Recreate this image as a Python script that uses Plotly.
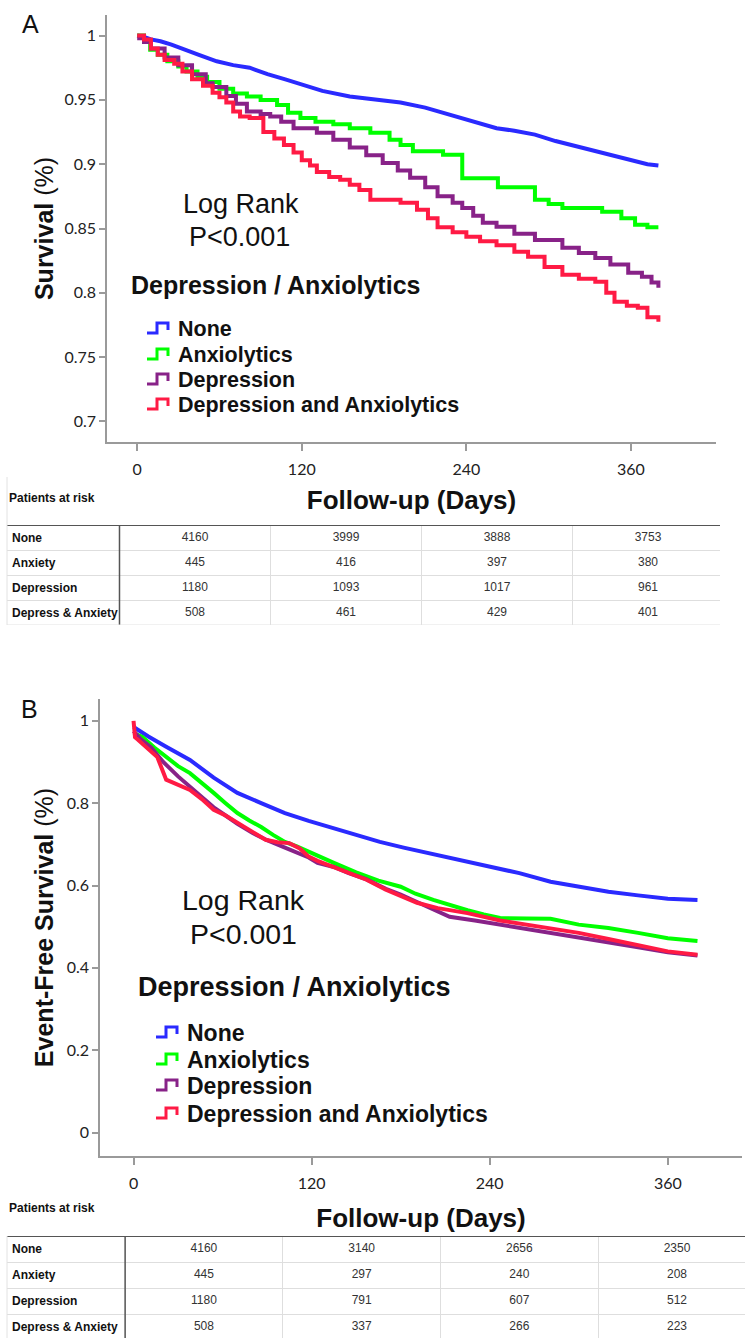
import plotly.graph_objects as go

W, H = 745, 1338


def px(x):
    return x / W


def py(y):
    return 1 - y / H


# ---------------- Panel A data (days, survival) ----------------
a_none_x = [0, 5, 10, 17, 25, 36, 45, 58, 70, 82, 95, 108, 119, 135, 155, 175, 192, 210, 228, 245, 262, 275, 290, 305, 321, 335, 346, 360, 372, 380]
a_none_y = [1.0, 0.999, 0.997, 0.9956, 0.993, 0.989, 0.985, 0.980, 0.977, 0.975, 0.970, 0.966, 0.962, 0.957, 0.9526, 0.950, 0.948, 0.944, 0.9385, 0.933, 0.928, 0.926, 0.923, 0.918, 0.9137, 0.910, 0.9074, 0.903, 0.900, 0.899]

a_anx_x = [0, 5, 9.5, 15, 22, 30, 36, 44, 51, 60, 70, 80, 90, 102, 110, 119, 130, 143, 155, 170, 184, 192, 201, 223, 237, 263, 290, 300, 310, 339, 353, 363, 372, 380]
a_anx_y = [1.0, 0.995, 0.989, 0.985, 0.980, 0.976, 0.972, 0.968, 0.964, 0.9587, 0.955, 0.9526, 0.950, 0.946, 0.940, 0.936, 0.933, 0.931, 0.928, 0.9245, 0.919, 0.915, 0.910, 0.9074, 0.889, 0.882, 0.8724, 0.869, 0.866, 0.863, 0.858, 0.853, 0.851, 0.851]

a_dep_x = [0, 5, 10, 20, 30, 40, 50, 55, 65, 72, 80, 90, 97, 105, 114, 131, 143, 155, 167, 179, 190, 199, 210, 219, 230, 237, 245, 252, 262, 275, 290, 310, 322, 334, 345, 358, 368, 375, 380]
a_dep_y = [0.998, 0.995, 0.990, 0.983, 0.977, 0.970, 0.963, 0.960, 0.953, 0.947, 0.941, 0.939, 0.937, 0.933, 0.928, 0.9245, 0.919, 0.913, 0.907, 0.901, 0.895, 0.8895, 0.882, 0.875, 0.870, 0.866, 0.860, 0.8545, 0.8514, 0.846, 0.841, 0.835, 0.831, 0.827, 0.822, 0.8156, 0.8125, 0.808, 0.804]

a_both_x = [0, 5, 10, 15, 20, 27, 33, 40, 48, 55, 60, 65, 70, 75, 82, 92, 100, 107, 114, 120, 126, 131, 140, 148, 155, 162, 170, 192, 204, 212, 219, 230, 240, 250, 262, 275, 285, 297, 310, 322, 334, 342, 348, 357, 365, 372, 380]
a_both_y = [1.0, 0.997, 0.990, 0.985, 0.981, 0.978, 0.972, 0.966, 0.961, 0.9556, 0.952, 0.948, 0.941, 0.937, 0.936, 0.925, 0.920, 0.915, 0.909, 0.903, 0.899, 0.894, 0.890, 0.888, 0.884, 0.880, 0.8724, 0.870, 0.8646, 0.858, 0.851, 0.847, 0.8436, 0.840, 0.837, 0.832, 0.828, 0.820, 0.814, 0.811, 0.8086, 0.800, 0.793, 0.790, 0.7884, 0.781, 0.7775]

# ---------------- Panel B data (days, event-free survival) ----------------
b_none_x = [0, 3, 10, 22, 30, 38, 54, 70, 86, 102, 118, 134, 150, 166, 182, 198, 220, 240, 260, 281, 300, 320, 340, 360, 380]
b_none_y = [0.985, 0.978, 0.962, 0.937, 0.920, 0.905, 0.862, 0.825, 0.800, 0.776, 0.757, 0.740, 0.722, 0.706, 0.692, 0.679, 0.662, 0.646, 0.630, 0.609, 0.597, 0.585, 0.576, 0.568, 0.565]

b_anx_x = [0, 6, 14, 22, 30, 38, 46, 54, 62, 70, 78, 86, 94, 102, 110, 118, 126, 135, 150, 165, 180, 190, 202, 213, 225, 236, 247, 265, 281, 300, 320, 340, 360, 380]
b_anx_y = [0.970, 0.961, 0.935, 0.912, 0.890, 0.873, 0.850, 0.825, 0.800, 0.776, 0.758, 0.742, 0.723, 0.706, 0.695, 0.682, 0.668, 0.655, 0.632, 0.612, 0.597, 0.580, 0.565, 0.552, 0.540, 0.530, 0.521, 0.520, 0.519, 0.505, 0.497, 0.485, 0.472, 0.465]

b_dep_x = [0, 5, 12, 20, 30, 38, 46, 54, 62, 70, 80, 90, 100, 110, 118, 124, 135, 145, 157, 170, 180, 191, 200, 213, 230, 247, 265, 281, 300, 320, 340, 360, 380]
b_dep_y = [0.975, 0.955, 0.935, 0.900, 0.865, 0.840, 0.815, 0.790, 0.770, 0.750, 0.728, 0.710, 0.695, 0.680, 0.668, 0.655, 0.645, 0.630, 0.615, 0.592, 0.578, 0.560, 0.545, 0.524, 0.515, 0.505, 0.495, 0.487, 0.475, 0.463, 0.450, 0.438, 0.430]

b_both_x = [0, 1, 3, 10, 16, 22, 38, 46, 54, 62, 70, 80, 89, 97, 105, 112, 118, 124, 135, 145, 157, 170, 180, 191, 205, 225, 247, 265, 281, 300, 320, 340, 360, 380]
b_both_y = [1.0, 0.960, 0.954, 0.930, 0.912, 0.857, 0.832, 0.810, 0.784, 0.770, 0.752, 0.730, 0.711, 0.705, 0.703, 0.690, 0.670, 0.660, 0.645, 0.630, 0.614, 0.590, 0.575, 0.558, 0.545, 0.533, 0.515, 0.505, 0.497, 0.485, 0.470, 0.455, 0.440, 0.432]

series_names = ["None", "Anxiolytics", "Depression", "Depression and Anxiolytics"]
series_colors = ["#2a2aff", "#00ff00", "#882288", "#ff1a44"]
a_line_shapes = ["linear", "hv", "hv", "hv"]

# ---------------- Tick labels ----------------
a_ytick_vals = [0.7, 0.75, 0.8, 0.85, 0.9, 0.95, 1.0]
a_ytick_text = ["0.7", "0.75", "0.8", "0.85", "0.9", "0.95", "1"]
b_ytick_vals = [0, 0.2, 0.4, 0.6, 0.8, 1.0]
b_ytick_text = ["0", "0.2", "0.4", "0.6", "0.8", "1"]
xtick_vals = [0, 120, 240, 360]
xtick_text = ["0", "120", "240", "360"]

# ---------------- Risk tables ----------------
risk_rows = ["None", "Anxiety", "Depression", "Depress & Anxiety"]
risk_times = [0, 120, 240, 360]
a_risk = {
    "None": [4160, 3999, 3888, 3753],
    "Anxiety": [445, 416, 397, 380],
    "Depression": [1180, 1093, 1017, 961],
    "Depress & Anxiety": [508, 461, 429, 401],
}
b_risk = {
    "None": [4160, 3140, 2656, 2350],
    "Anxiety": [445, 297, 240, 208],
    "Depression": [1180, 791, 607, 512],
    "Depress & Anxiety": [508, 337, 266, 223],
}

fig = go.Figure()

a_series = [(a_none_x, a_none_y), (a_anx_x, a_anx_y), (a_dep_x, a_dep_y), (a_both_x, a_both_y)]
b_series = [(b_none_x, b_none_y), (b_anx_x, b_anx_y), (b_dep_x, b_dep_y), (b_both_x, b_both_y)]

for (xs, ys), name, col, shp in zip(a_series, series_names, series_colors, a_line_shapes):
    fig.add_trace(go.Scatter(x=xs, y=ys, mode="lines", name=name, showlegend=False,
                             line=dict(color=col, width=4, shape=shp), xaxis="x", yaxis="y"))
for (xs, ys), name, col in zip(b_series, series_names, series_colors):
    fig.add_trace(go.Scatter(x=xs, y=ys, mode="lines", name=name, showlegend=False,
                             line=dict(color=col, width=4, shape="linear"), xaxis="x2", yaxis="y2"))

TABLE_FONT = "Liberation Sans, Arial"

# risk-table numbers: column = time index, row = group index, on their own axes
for risk, xa, ya in [(a_risk, "x3", "y3"), (b_risk, "x4", "y4")]:
    tx, ty, tt = [], [], []
    for r, row in enumerate(risk_rows):
        for c, _t in enumerate(risk_times):
            tx.append(c)
            ty.append(r)
            tt.append(str(risk[row][c]))
    fig.add_trace(go.Scatter(x=tx, y=ty, text=tt, mode="text", showlegend=False, hoverinfo="skip",
                             textfont=dict(family=TABLE_FONT, size=12, color="#333"),
                             xaxis=xa, yaxis=ya))

TICKFONT = dict(family="Lato, DejaVu Sans", size=16, color="#222")
TITLEFONT = dict(family="Liberation Sans, Arial", size=26, color="#111")
YTITLEFONT = dict(family="Liberation Sans, Arial", size=25, color="#111")

axis_common = dict(showgrid=False, zeroline=False, showline=True, linecolor="#9a9a9a", linewidth=1.5,
                   ticks="outside", tickcolor="#9a9a9a", tickwidth=1.5, tickfont=TICKFONT)

grid_col = "#dedede"
table_axis = dict(showline=False, zeroline=False, ticks="", showticklabels=False,
                  showgrid=True, gridcolor=grid_col, gridwidth=1, fixedrange=True)

fig.update_layout(
    width=W, height=H, margin=dict(l=0, r=0, t=0, b=0),
    paper_bgcolor="white", plot_bgcolor="white", showlegend=False,
    xaxis=dict(domain=[px(107), px(716)], range=[-22, 422], anchor="y",
               tickvals=xtick_vals, ticktext=xtick_text, ticklen=7, ticklabelstandoff=5,
               title=dict(text="<b>Follow-up (Days)</b>", font=TITLEFONT, standoff=14), **axis_common),
    yaxis=dict(domain=[py(442), py(15)], range=[0.684, 1.016], anchor="x",
               tickvals=a_ytick_vals, ticktext=a_ytick_text, ticklen=6,
               title=dict(text="<b>Survival</b> (%)", font=YTITLEFONT, standoff=4), **axis_common),
    xaxis2=dict(domain=[px(100), px(742)], range=[-22.6, 410], anchor="y2",
                tickvals=xtick_vals, ticktext=xtick_text, ticklen=7, ticklabelstandoff=5,
                title=dict(text="<b>Follow-up (Days)</b>", font=TITLEFONT, standoff=18), **axis_common),
    yaxis2=dict(domain=[py(1156), py(699)], range=[-0.057, 1.053], anchor="x2",
                tickvals=b_ytick_vals, ticktext=b_ytick_text, ticklen=6,
                title=dict(text="<b>Event-Free Survival</b> (%)", font=YTITLEFONT, standoff=6), **axis_common),
    # risk table A
    xaxis3=dict(domain=[px(7), px(720)], range=[-1.245, 3.477], anchor="y3",
                tickvals=[-0.5, 0.5, 1.5, 2.5], **table_axis),
    yaxis3=dict(domain=[py(625), py(525)], range=[3.5, -0.5], anchor="x3",
                tickvals=[0.5, 1.5, 2.5, 3.5], **table_axis),
    # risk table B
    xaxis4=dict(domain=[px(7), 1], range=[-1.249, 3.431], anchor="y4",
                tickvals=[-0.5, 0.5, 1.5, 2.5], **table_axis),
    yaxis4=dict(domain=[0, py(1236)], range=[3.423, -0.5], anchor="x4",
                tickvals=[0.5, 1.5, 2.5], **table_axis),
)

ann = []
shapes = []


def text(x, y, s, size, bold=False, xanchor="center", family="Liberation Sans, Arial", color="#111"):
    ann.append(dict(x=px(x), y=py(y), xref="paper", yref="paper", text=("<b>%s</b>" % s) if bold else s,
                    showarrow=False, xanchor=xanchor, yanchor="middle",
                    font=dict(family=family, size=size, color=color)))


# panel letters
text(20, 24, "A", 25, xanchor="left")
text(19, 709, "B", 25, xanchor="left")

# Log rank
text(241, 204, "Log Rank", 27)
text(240, 237, "P&lt;0.001", 27)
text(243, 900, "Log Rank", 28.5)
text(243, 934, "P&lt;0.001", 28.5)

# legend titles
text(129, 285, "Depression / Anxiolytics", 25, bold=True, xanchor="left")
text(136, 987, "Depression / Anxiolytics", 27, bold=True, xanchor="left")


def legend(x_icon, x_text, ys, size):
    for y, name, col in zip(ys, series_names, series_colors):
        x0 = x_icon
        path = "M %f,%f L %f,%f L %f,%f L %f,%f L %f,%f" % (
            px(x0), py(y + 5), px(x0 + 10), py(y + 5), px(x0 + 10), py(y - 5),
            px(x0 + 21), py(y - 5), px(x0 + 21), py(y + 2))
        shapes.append(dict(type="path", path=path, xref="paper", yref="paper",
                           line=dict(color=col, width=3)))
        text(x_text, y + 1, name, size, bold=True, xanchor="left")


legend(147, 176, [328, 354, 379, 404], 21.5)
legend(156, 185, [1032, 1059, 1085, 1113], 23)

# risk table labels
text(7, 498, "Patients at risk", 12, bold=True, xanchor="left", family=TABLE_FONT)
text(7, 1208, "Patients at risk", 12, bold=True, xanchor="left", family=TABLE_FONT)
for xa, ya in [("x3", "y3"), ("x4", "y4")]:
    for r, row in enumerate(risk_rows):
        ann.append(dict(x=0.004, y=r, xref="%s domain" % xa, yref=ya, text="<b>%s</b>" % row,
                        showarrow=False, xanchor="left", yanchor="middle",
                        font=dict(family=TABLE_FONT, size=12, color="#111")))

line_dark = dict(color="#555555", width=2)
line_light = dict(color="#e2e2e2", width=1)
for xa, ya in [("x3", "y3"), ("x4", "y4")]:
    shapes.append(dict(type="line", xref="%s domain" % xa, yref=ya, x0=0, x1=1, y0=-0.5, y1=-0.5, line=line_dark))
    shapes.append(dict(type="line", xref=xa, yref="%s domain" % ya, x0=-0.5, x1=-0.5, y0=0, y1=1,
                       line=dict(color="#555", width=1.5)))
    shapes.append(dict(type="line", xref="%s domain" % xa, yref="%s domain" % ya, x0=0, x1=0, y0=0, y1=1,
                       line=line_light))
shapes.append(dict(type="line", xref="x3 domain", yref="y3", x0=0, x1=1, y0=3.5, y1=3.5, line=line_light))
shapes.append(dict(type="line", xref="paper", yref="paper", x0=px(7), x1=px(7), y0=py(477), y1=py(525), line=line_light))

fig.update_layout(annotations=ann, shapes=shapes)
fig.write_html("out.html")
